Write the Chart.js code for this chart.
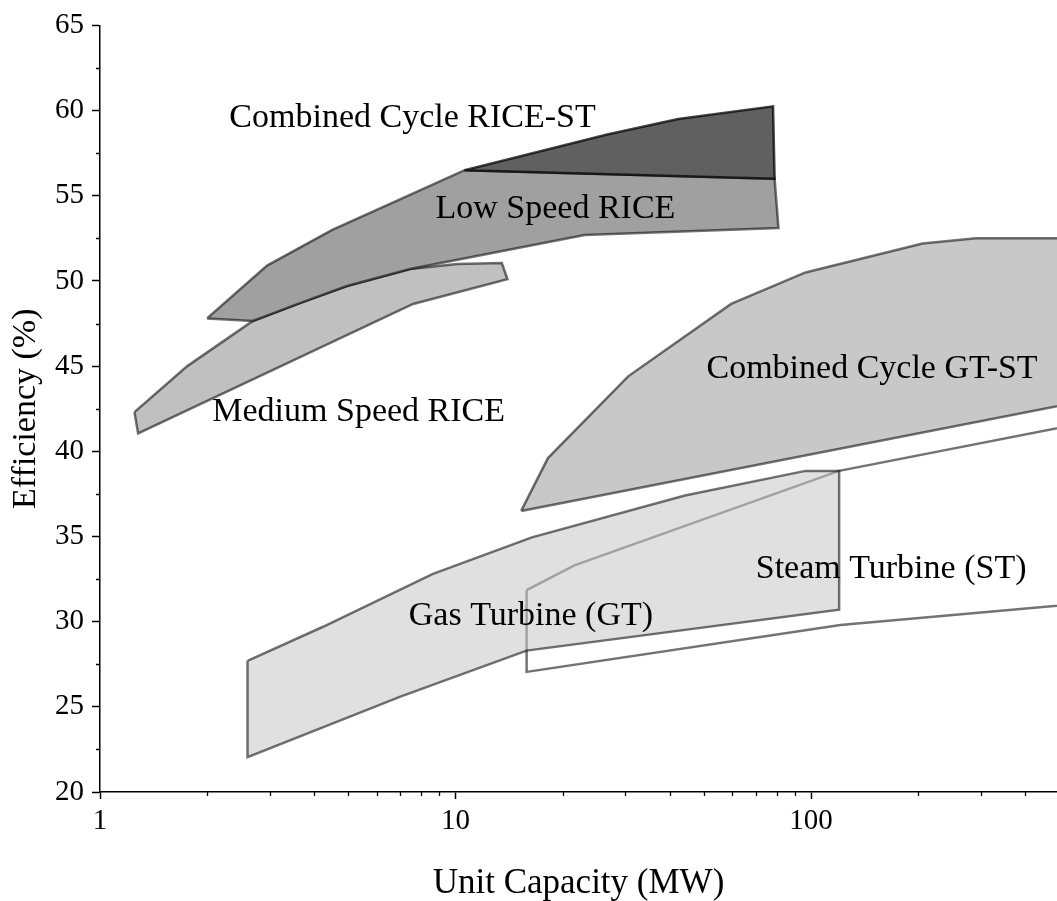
<!DOCTYPE html>
<html>
<head>
<meta charset="utf-8">
<script src="https://cdn.jsdelivr.net/npm/chart.js@4.4.1/dist/chart.umd.min.js"></script>
<style>
  html, body { margin: 0; padding: 0; background: #fff; overflow: hidden; }
  #wrap { width: 1057px; height: 901px; }
</style>
</head>
<body>
<div id="wrap"><canvas id="effChart" width="1057" height="901"></canvas></div>
<script>
// ── Outlines: unit capacity (MW) vs efficiency (%) ──
const riceStCap = [10.6, 26.7, 42.3, 78.2, 79, 10.6];
const riceStEff = [56.5, 58.6, 59.5, 60.25, 56.0, 56.5];

const lowCap = [2.0, 2.95, 4.5, 7.0, 10.6, 79, 81, 23.1, 7.45, 4.95, 3.65, 2.69, 2.0];
const lowEff = [47.8, 50.9, 53.0, 54.8, 56.5, 56.0, 53.1, 52.7, 50.7, 49.7, 48.7, 47.65, 47.8];

const medCap = [1.25, 1.76, 2.69, 3.65, 4.95, 7.45, 10.1, 13.5, 14.0, 7.6, 1.28, 1.25];
const medEff = [42.3, 45.0, 47.65, 48.7, 49.7, 50.7, 51.0, 51.05, 50.1, 48.65, 41.05, 42.3];

const ccgtCap = [15.3, 18.2, 30.6, 59.6, 96.5, 206, 291, 600, 600, 15.3];
const ccgtEff = [36.5, 39.6, 44.4, 48.65, 50.5, 52.2, 52.5, 52.5, 43.0, 36.5];

const gtCap = [2.6, 4.24, 8.64, 16.4, 44.2, 96.5, 120, 120, 15.85, 7.0, 2.6, 2.6];
const gtEff = [27.7, 29.7, 32.8, 34.95, 37.4, 38.85, 38.85, 30.7, 28.3, 25.6, 22.05, 27.7];

const stCap = [15.85, 21.6, 120, 600, 600, 121, 15.85, 15.85];
const stEff = [31.85, 33.3, 38.85, 41.7, 31.1, 29.8, 27.05, 31.85];

const regionNames = [
  "Combined Cycle RICE-ST",
  "Low Speed RICE",
  "Medium Speed RICE",
  "Combined Cycle GT-ST",
  "Gas Turbine (GT)",
  "Steam Turbine (ST)",
];
// where each name sits (centre capacity, baseline efficiency)
const nameCap = [7.57, 19.1, 5.34, 148.5, 16.3, 168];
const nameEff = [59.02, 53.69, 41.8, 44.32, 29.79, 32.55];

const capTicks = [1, 10, 100];
const capMinor = [2, 3, 4, 5, 6, 7, 8, 9, 20, 30, 40, 50, 60, 70, 80, 90, 200, 300, 400];
const effTicks = [20, 25, 30, 35, 40, 45, 50, 55, 60, 65];
const effMinor = [22.5, 27.5, 32.5, 37.5, 42.5, 47.5, 52.5, 57.5, 62.5];

const SERIF = '"Liberation Serif", "DejaVu Serif", serif';
const EDGE = "rgba(0,0,0,0.55)";

const pts = (xs, ys) => xs.map((x, i) => ({ x, y: ys[i] }));

function region(label, xs, ys, fillColor, edge, order) {
  return {
    label,
    data: pts(xs, ys),
    fill: fillColor ? "shape" : false,
    backgroundColor: fillColor || "transparent",
    borderColor: edge,
    borderWidth: 2.5,
    tension: 0,
    pointRadius: 0,
    pointHoverRadius: 0,
    order,
  };
}

// ── minor tick marks (Chart.js has none of its own) ──
const minorTicks = {
  id: "minorTicks",
  afterDraw(chart) {
    const { ctx, chartArea: a, scales } = chart;
    ctx.save();
    ctx.strokeStyle = "#000";
    ctx.lineWidth = 1.3;
    ctx.beginPath();
    capMinor.forEach((v) => {
      const px = Math.round(scales.x.getPixelForValue(v)) + 0.5;
      ctx.moveTo(px, a.bottom);
      ctx.lineTo(px, a.bottom + 4);
    });
    effMinor.forEach((v) => {
      const py = Math.round(scales.y.getPixelForValue(v)) + 0.5;
      ctx.moveTo(a.left, py);
      ctx.lineTo(a.left - 4, py);
    });
    ctx.stroke();
    ctx.restore();
  },
};

// ── region names written inside the plot ──
const regionText = {
  id: "regionText",
  afterDatasetsDraw(chart) {
    const { ctx, scales } = chart;
    ctx.save();
    ctx.font = `34px ${SERIF}`;
    ctx.fillStyle = "#000";
    ctx.textAlign = "center";
    ctx.textBaseline = "alphabetic";
    regionNames.forEach((name, i) => {
      ctx.fillText(
        name,
        scales.x.getPixelForValue(nameCap[i]),
        scales.y.getPixelForValue(nameEff[i]),
      );
    });
    ctx.restore();
  },
};

const canvas = document.getElementById("effChart");

new Chart(canvas, {
  type: "line",
  data: {
    datasets: [
      region(regionNames[0], riceStCap, riceStEff, "#606060", "rgba(0,0,0,0.72)", 0),
      region(regionNames[1], lowCap, lowEff, "#a0a0a0", EDGE, 1),
      region(regionNames[2], medCap, medEff, "#c0c0c0", EDGE, 2),
      region(regionNames[3], ccgtCap, ccgtEff, "#c8c8c8", EDGE, 3),
      region(regionNames[4], gtCap, gtEff, "rgba(199,199,199,0.55)", EDGE, 4),
      region(regionNames[5], stCap, stEff, null, EDGE, 5),
    ],
  },
  plugins: [minorTicks, regionText],
  options: {
    responsive: false,
    animation: false,
    devicePixelRatio: 1,
    layout: { padding: { top: 23, right: 0, bottom: 0, left: 0 } },
    plugins: {
      legend: { display: false },
      tooltip: { enabled: false },
    },
    scales: {
      x: {
        type: "logarithmic",
        min: 1,
        max: 492,
        afterBuildTicks: (s) => {
          s.ticks = capTicks.map((v) => ({ value: v }));
        },
        afterFit: (s) => {
          s.height = 109;
        },
        ticks: {
          font: { family: SERIF, size: 29 },
          color: "#000",
          padding: 5,
          maxRotation: 0,
          autoSkip: false,
          callback: (v) => String(v),
        },
        grid: {
          drawOnChartArea: false,
          tickLength: 7,
          tickColor: "#000",
          tickWidth: 1.5,
        },
        border: { color: "#000", width: 1.5 },
        title: {
          display: true,
          text: "Unit Capacity (MW)",
          font: { family: SERIF, size: 35 },
          color: "#000",
          padding: { top: 0, bottom: -4 },
        },
      },
      y: {
        min: 20,
        max: 65,
        afterBuildTicks: (s) => {
          s.ticks = effTicks.map((v) => ({ value: v }));
        },
        afterFit: (s) => {
          s.width = 100;
        },
        ticks: {
          font: { family: SERIF, size: 29 },
          color: "#000",
          padding: 8,
        },
        grid: {
          drawOnChartArea: false,
          tickLength: 8,
          tickColor: "#000",
          tickWidth: 1.5,
        },
        border: { color: "#000", width: 1.5 },
        title: {
          display: true,
          text: "Efficiency (%)",
          font: { family: SERIF, size: 34 },
          color: "#000",
          padding: { top: 6, bottom: 0 },
        },
      },
    },
  },
});
</script>
</body>
</html>
